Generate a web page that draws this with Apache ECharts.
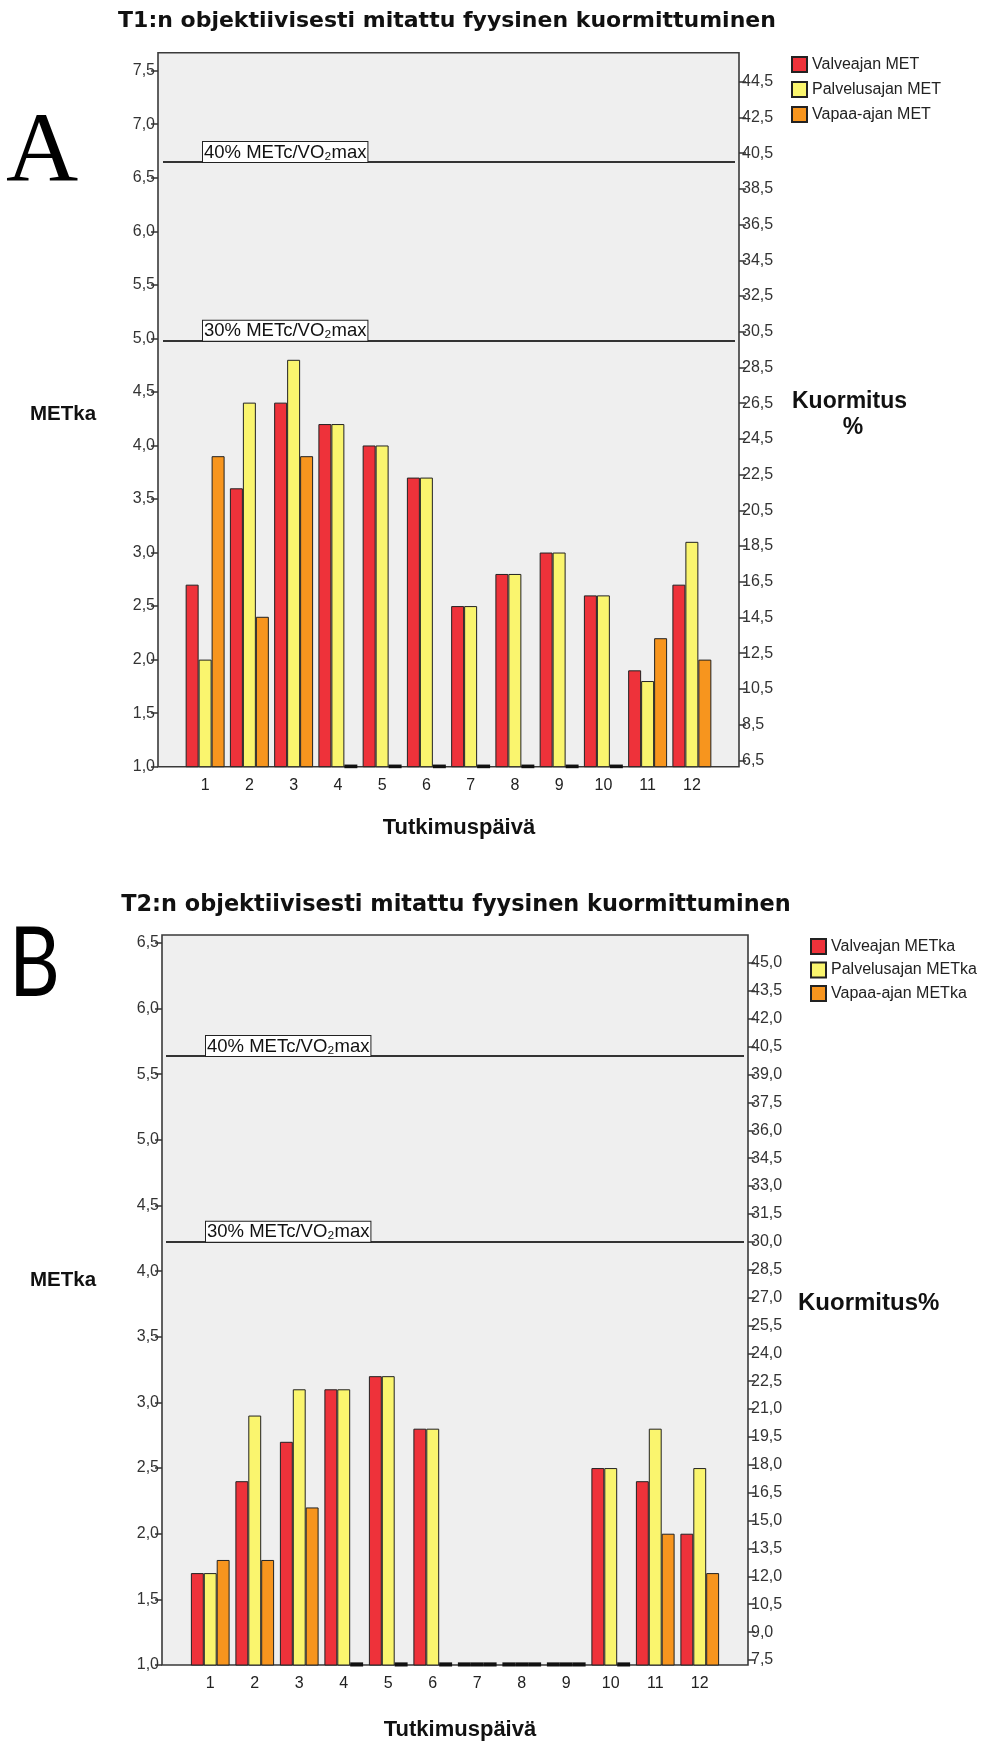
<!DOCTYPE html>
<html><head><meta charset="utf-8">
<script src="https://cdn.jsdelivr.net/npm/echarts@6/dist/echarts.min.js"></script>
<style>html,body{margin:0;padding:0;background:#fff}#c{width:995px;height:1742px}</style>
</head><body><div id="c"></div><script>
// ---------- data ----------
const days = ['1','2','3','4','5','6','7','8','9','10','11','12'];
const namesA = ['Valveajan MET','Palvelusajan MET','Vapaa-ajan MET'];
const namesB = ['Valveajan METka','Palvelusajan METka','Vapaa-ajan METka'];
const aValve   = [2.7,3.6,4.4,4.2,4.0,3.7,2.5,2.8,3.0,2.6,1.9,2.7];
const aPalvelus= [2.0,4.4,4.8,4.2,4.0,3.7,2.5,2.8,3.0,2.6,1.8,3.1];
const aVapaa   = [3.9,2.4,3.9,0,0,0,0,0,0,0,2.2,2.0];
const bValve   = [1.7,2.4,2.7,3.1,3.2,2.8,0,0,0,2.5,2.4,2.0];
const bPalvelus= [1.7,2.9,3.1,3.1,3.2,2.8,0,0,0,2.5,2.8,2.5];
const bVapaa   = [1.8,1.8,2.2,0,0,0,0,0,0,0,2.0,1.7];
const refLevels = [40, 30];               // Kuormitus % reference lines
const refLabels = ['40% METc/VO₂max', '30% METc/VO₂max'];
// axis ranges
const leftA = {min:1.0, max:7.5, step:0.5};
const rightA = {min:6.5, max:44.5, step:2};
const leftB = {min:1.0, max:6.5, step:0.5};
const rightB = {min:7.5, max:45.0, step:1.5};

// ---------- styling ----------
const colors = ['#EE323A', '#FAF56E', '#F7951E'];
const FONT = 'Liberation Sans, Arial, sans-serif';
const comma = v => v.toFixed(1).replace('.', ',');

function g(left, top, right, bottom, show) {
  return {left, top, width: right-left, height: bottom-top, show: !!show,
    backgroundColor: '#efefef', borderColor: '#3a3a3a', borderWidth: 1.6, containLabel: false};
}
const grids = [
  // chart A
  g(158, 52.7, 739, 766.7, true),  // 0 frame
  g(158, 70.7, 739, 766.7),        // 1 left axis
  g(183, 70.7, 714, 766.7),        // 2 bars
  g(163, 81.7, 735, 760.3),        // 3 right axis + ref lines
  // chart B
  g(162, 935, 748, 1665, true),    // 4 frame
  g(162, 942.9, 748, 1665),        // 5 left axis
  g(188, 942.9, 722, 1665),        // 6 bars
  g(166, 963, 744, 1660),          // 7 right axis + ref lines
];

const hiddenX = i => ({gridIndex: i, type: 'category', data: days, show: false});
const catAxis = i => ({gridIndex: i, type: 'category', data: days,
   axisLine: {show: false},
   axisTick: {alignWithLabel: true, length: 7, lineStyle: {color: '#333', width: 1.5}},
   axisLabel: {margin: 11, fontSize: 16, color: '#222', fontFamily: FONT}});
const xAxes = [
  hiddenX(0), hiddenX(1), catAxis(2), hiddenX(3),
  hiddenX(4), hiddenX(5), catAxis(6), hiddenX(7),
];

function valAxis(gi, r, pos, show, offset) {
  return {gridIndex: gi, type: 'value', min: r.min, max: r.max, interval: r.step,
    position: pos, offset: offset || 0, show: show, splitLine: {show: false},
    axisLine: {show: false},
    axisTick: {show: true, length: 7, lineStyle: {color: '#333', width: 1.5}},
    axisLabel: {formatter: comma, fontSize: 16, color: '#333', margin: 3, fontFamily: FONT}};
}
const yAxes = [
  {gridIndex: 0, type: 'value', show: false, splitLine: {show: false}},
  valAxis(1, leftA, 'left', true),
  valAxis(2, leftA, 'left', false),
  valAxis(3, rightA, 'right', true, 4),
  {gridIndex: 4, type: 'value', show: false, splitLine: {show: false}},
  valAxis(5, leftB, 'left', true),
  valAxis(6, leftB, 'left', false),
  valAxis(7, rightB, 'right', true, 4),
];

// zero values are drawn as a flat, thick-outlined bar resting on the axis floor
// (a hair above the floor so the library does not clip the outline away)
function barData(arr, floor) {
  return arr.map(v => v > floor ? v :
    {value: floor + 0.02, itemStyle: {borderWidth: 3, borderColor: '#111'}});
}
function bars(names, arrs, xi, yi, floor, gap) {
  return names.map((n, k) => ({
    name: n, type: 'bar', xAxisIndex: xi, yAxisIndex: yi,
    data: barData(arrs[k], floor), clip: true,
    barGap: '0%', barCategoryGap: gap,
    itemStyle: {color: colors[k], borderColor: '#222', borderWidth: 1},
    emphasis: {disabled: true}, animation: false
  }));
}
function refSeries(xi, yi) {
  return {
    type: 'line', xAxisIndex: xi, yAxisIndex: yi, data: [], silent: true, animation: false,
    markLine: {
      symbol: ['none', 'none'], silent: true, animation: false,
      lineStyle: {color: '#333', width: 2, type: 'solid'},
      label: {
        position: 'insideStartTop', distance: [40, 0],
        fontSize: 18.5, fontFamily: FONT, color: '#111',
        backgroundColor: '#fff', borderColor: '#222', borderWidth: 1,
        padding: [1, 1, 0, 1]
      },
      data: refLevels.map((v, i) => ({yAxis: v, label: {formatter: refLabels[i]}}))
    }
  };
}

const series = [
  ...bars(namesA, [aValve, aPalvelus, aVapaa], 2, 2, leftA.min, '12%'),
  refSeries(3, 3),
  ...bars(namesB, [bValve, bPalvelus, bVapaa], 6, 6, leftB.min, '13%'),
  refSeries(7, 7),
];

function legend(names, left, top, gap) {
  return {data: names, orient: 'vertical', left, top, padding: 0, itemWidth: 15, itemHeight: 15, itemGap: gap,
    icon: 'rect', selectedMode: false,
    textStyle: {fontSize: 16, color: '#222', fontFamily: FONT}};
}

function txt(text, x, y, font, align) {
  return {type: 'text', x, y, silent: true,
    style: {text, font, fill: '#111', textAlign: align || 'center', textVerticalAlign: 'middle'}};
}
const graphics = [
  txt('T1:n objektiivisesti mitattu fyysinen kuormittuminen', 447, 21, 'bold 22px DejaVu Sans'),
  txt('T2:n objektiivisesti mitattu fyysinen kuormittuminen', 456, 905, 'bold 22.4px DejaVu Sans'),
  {type: 'text', x: 6, y: 155, silent: true,
   style: {text: 'A', font: '100px Liberation Serif', fill: '#000', textAlign: 'left', textVerticalAlign: 'middle',
     shadowColor: 'rgba(0,0,0,0.45)', shadowBlur: 4, shadowOffsetX: 2, shadowOffsetY: 2}},
  {type: 'text', x: 9, y: 965, silent: true, scaleX: 0.82,
   style: {text: 'B', font: '96px Lato', fill: '#000', textAlign: 'left', textVerticalAlign: 'middle',
     shadowColor: 'rgba(0,0,0,0.45)', shadowBlur: 4, shadowOffsetX: 2, shadowOffsetY: 2}},
  txt('METka', 63, 414, 'bold 20.5px ' + FONT),
  txt('METka', 63, 1280, 'bold 20.5px ' + FONT),
  txt('Kuormitus', 792, 402, 'bold 23px ' + FONT, 'left'),
  txt('%', 853, 428, 'bold 23px ' + FONT),
  txt('Kuormitus%', 798, 1303, 'bold 24px ' + FONT, 'left'),
  txt('Tutkimuspäivä', 459, 828, 'bold 22px ' + FONT),
  txt('Tutkimuspäivä', 460, 1730, 'bold 22px ' + FONT),
];

const chart = echarts.init(document.getElementById('c'), null, {renderer: 'canvas'});
chart.setOption({
  animation: false,
  backgroundColor: '#fff',
  grid: grids, xAxis: xAxes, yAxis: yAxes, series,
  legend: [legend(namesA, 791, 56, 8), legend(namesB, 810, 938, 6.5)],
  graphic: graphics
});
</script></body></html>
